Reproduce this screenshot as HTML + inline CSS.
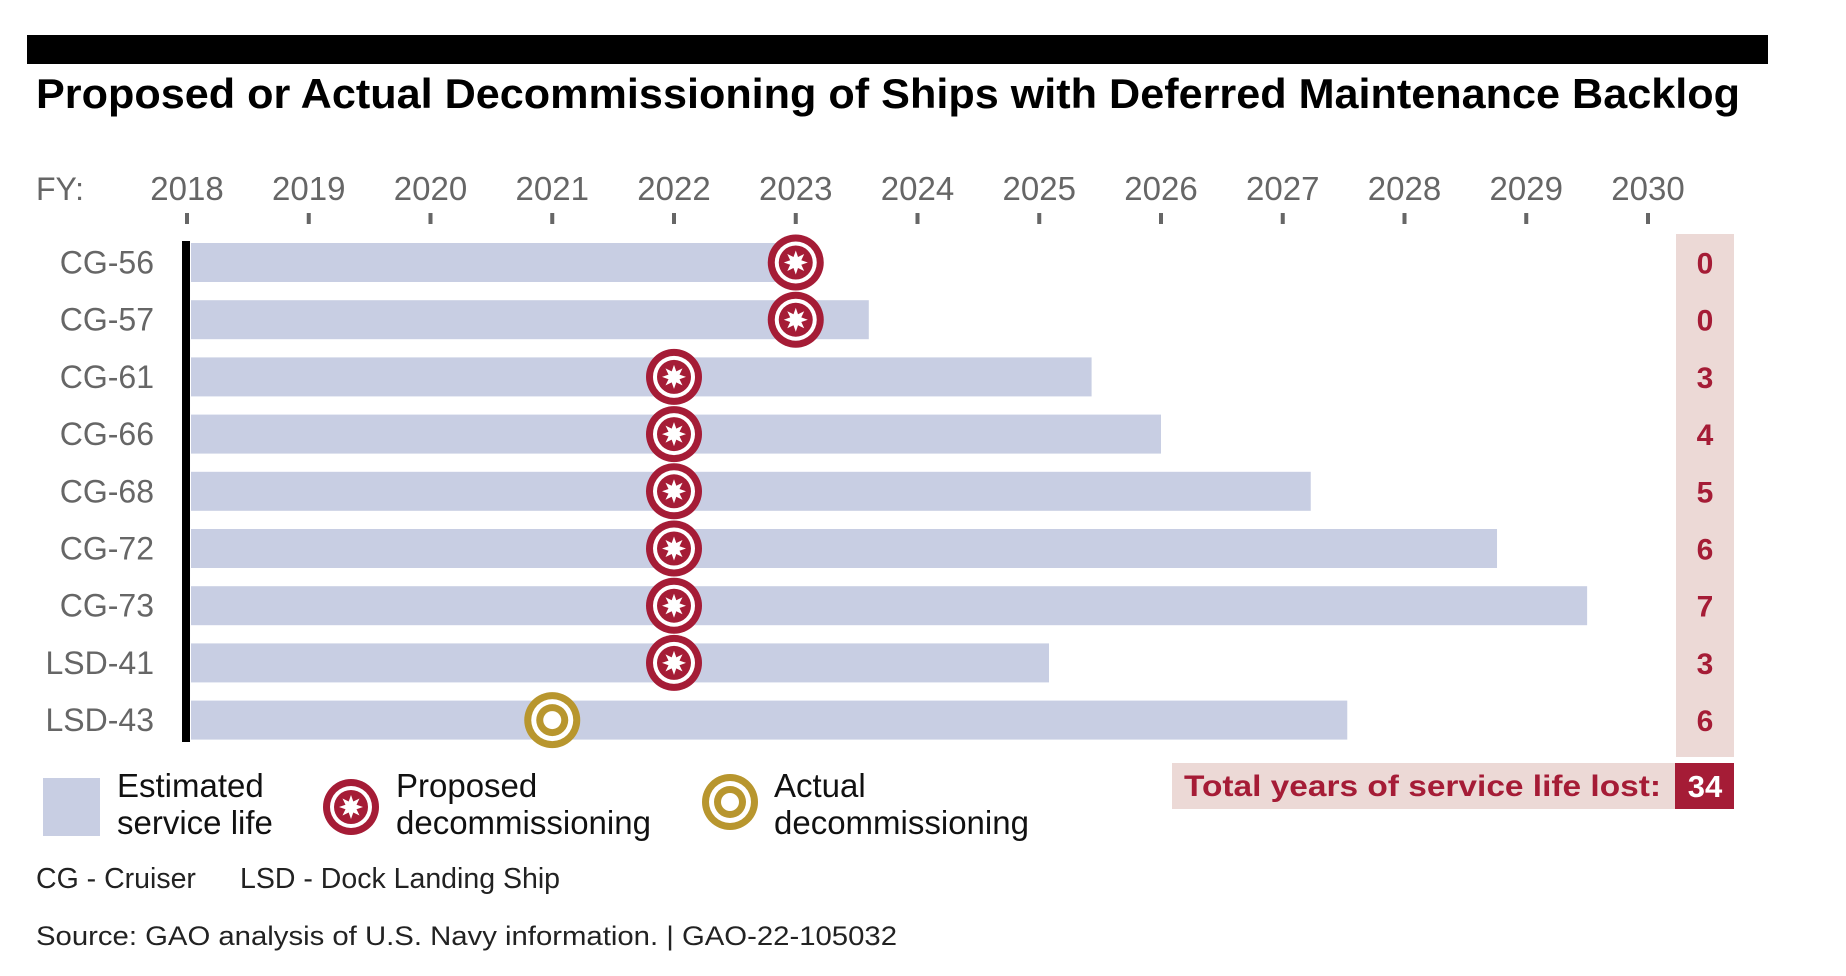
<!DOCTYPE html>
<html><head><meta charset="utf-8"><style>
html,body{margin:0;padding:0;background:#fff;}
svg{display:block;font-family:"Liberation Sans",Arial,sans-serif;}
</style></head><body>
<svg id="chart" width="1846" height="976" viewBox="0 0 1846 976">
<rect x="27" y="35" width="1741" height="29" fill="#000"/>
<text x="36" y="108" font-size="42" font-weight="bold" fill="#000" textLength="1704" lengthAdjust="spacingAndGlyphs">Proposed or Actual Decommissioning of Ships with Deferred Maintenance Backlog</text>
<text x="36" y="200" font-size="32" fill="#666">FY:</text>
<g id="xaxis"></g>
<g id="bars"></g>
<rect x="182" y="241" width="8" height="501" fill="#000"/>
<g id="ylabels"></g>
<rect x="1676" y="234" width="58" height="523" fill="#ecd9d6"/>
<g id="lost"></g>
<g id="markers"></g>
<rect x="1172" y="763" width="503" height="46" fill="#ecd9d6"/>
<text x="1184" y="796" font-size="30" font-weight="bold" fill="#a51c36" textLength="477" lengthAdjust="spacingAndGlyphs">Total years of service life lost:</text>
<rect x="1675" y="763" width="59" height="46" fill="#a51c36"/>
<text id="totalval" x="1705" y="797" font-size="31" font-weight="bold" fill="#fff" text-anchor="middle">34</text>
<g>
<rect x="43" y="778" width="57" height="58" fill="#c8cee3"/>
<text x="117" y="797" font-size="33" fill="#111"><tspan x="117">Estimated</tspan><tspan x="117" y="834">service life</tspan></text>
<g id="legprop"></g>
<text x="396" y="797" font-size="33" fill="#111"><tspan x="396">Proposed</tspan><tspan x="396" y="834">decommissioning</tspan></text>
<g id="legact"></g>
<text x="774" y="797" font-size="33" fill="#111"><tspan x="774">Actual</tspan><tspan x="774" y="834">decommissioning</tspan></text>
</g>
<text x="36" y="888" font-size="28.5" fill="#222">CG - Cruiser</text>
<text x="240" y="888" font-size="28.5" fill="#222">LSD - Dock Landing Ship</text>
<text x="36" y="945" font-size="27" fill="#222" textLength="861" lengthAdjust="spacingAndGlyphs">Source: GAO analysis of U.S. Navy information.  |  GAO-22-105032</text>
</svg>
<script>
const ships = ["CG-56","CG-57","CG-61","CG-66","CG-68","CG-72","CG-73","LSD-41","LSD-43"];
const serviceEnd = [2023.0,2023.6,2025.43,2026.0,2027.23,2028.76,2029.5,2025.08,2027.53];
const decomYear = [2023,2023,2022,2022,2022,2022,2022,2022,2021];
const decomType = ["proposed","proposed","proposed","proposed","proposed","proposed","proposed","proposed","actual"];
const yearsLost = [0,0,3,4,5,6,7,3,6];
const yearTicks = [2018,2019,2020,2021,2022,2023,2024,2025,2026,2027,2028,2029,2030];

const NS = "http://www.w3.org/2000/svg";
const x0 = 187, yearW = 121.75, row0 = 262.5, rowStep = 57.2, barH = 39;
const xs = y => x0 + (y - 2018) * yearW;
const ys = i => row0 + i * rowStep;
function mk(tag, attrs, parent){const e=document.createElementNS(NS,tag);for(const k in attrs)e.setAttribute(k,attrs[k]);parent.appendChild(e);return e;}

const xa=document.getElementById('xaxis');
yearTicks.forEach(y=>{
  const t=mk('text',{x:xs(y),y:200,'font-size':33,fill:'#666','text-anchor':'middle'},xa);
  t.textContent=y;
  
  
  const l=mk('rect',{x:xs(y)-2,y:213,width:4,height:11,fill:'#666'},xa);
  
  
});

function star(g,cx,cy,r){
  let pts=[];
  for(let k=0;k<16;k++){const a=Math.PI*k/8-Math.PI/2;const rr=k%2?r*0.5:r;pts.push((cx+rr*Math.cos(a)).toFixed(1)+','+(cy+rr*Math.sin(a)).toFixed(1));}
  mk('polygon',{points:pts.join(' '),fill:'#fff'},g);
}
function proposed(g,cx,cy){
  mk('circle',{cx:cx,cy:cy,r:28,fill:'#a51c36'},g);
  mk('circle',{cx:cx,cy:cy,r:21,fill:'#fff'},g);
  mk('circle',{cx:cx,cy:cy,r:17,fill:'#a51c36'},g);
  star(g,cx,cy,12);
}
function actual(g,cx,cy){
  mk('circle',{cx:cx,cy:cy,r:28,fill:'#b8962e'},g);
  mk('circle',{cx:cx,cy:cy,r:21,fill:'#fff'},g);
  mk('circle',{cx:cx,cy:cy,r:16,fill:'#b8962e'},g);
  mk('circle',{cx:cx,cy:cy,r:9,fill:'#fff'},g);
}

const bars=document.getElementById('bars'), yl=document.getElementById('ylabels'), lost=document.getElementById('lost'), mg=document.getElementById('markers');
ships.forEach((s,i)=>{
  const cy=ys(i);
  const b=mk('rect',{x:191,y:cy-barH/2,width:xs(serviceEnd[i])-191,height:barH,fill:'#c8cee3'},bars);
  
  
  const t=mk('text',{x:154,y:cy+11,'font-size':32,fill:'#666','text-anchor':'end'},yl);
  t.textContent=s;
  
  
  const v=mk('text',{x:1705,y:cy+11,'font-size':30,'font-weight':'bold',fill:'#a51c36','text-anchor':'middle'},lost);
  v.textContent=yearsLost[i];
  
  
  const g=mk('g',{},mg);
  
  
  if(decomType[i]==='actual') actual(g,xs(decomYear[i]),cy); else proposed(g,xs(decomYear[i]),cy);
});
document.getElementById('totalval').textContent=yearsLost.reduce((a,b)=>a+b,0);
proposed(document.getElementById('legprop'),351,807);
actual(document.getElementById('legact'),730,802);
</script>
</body></html>
